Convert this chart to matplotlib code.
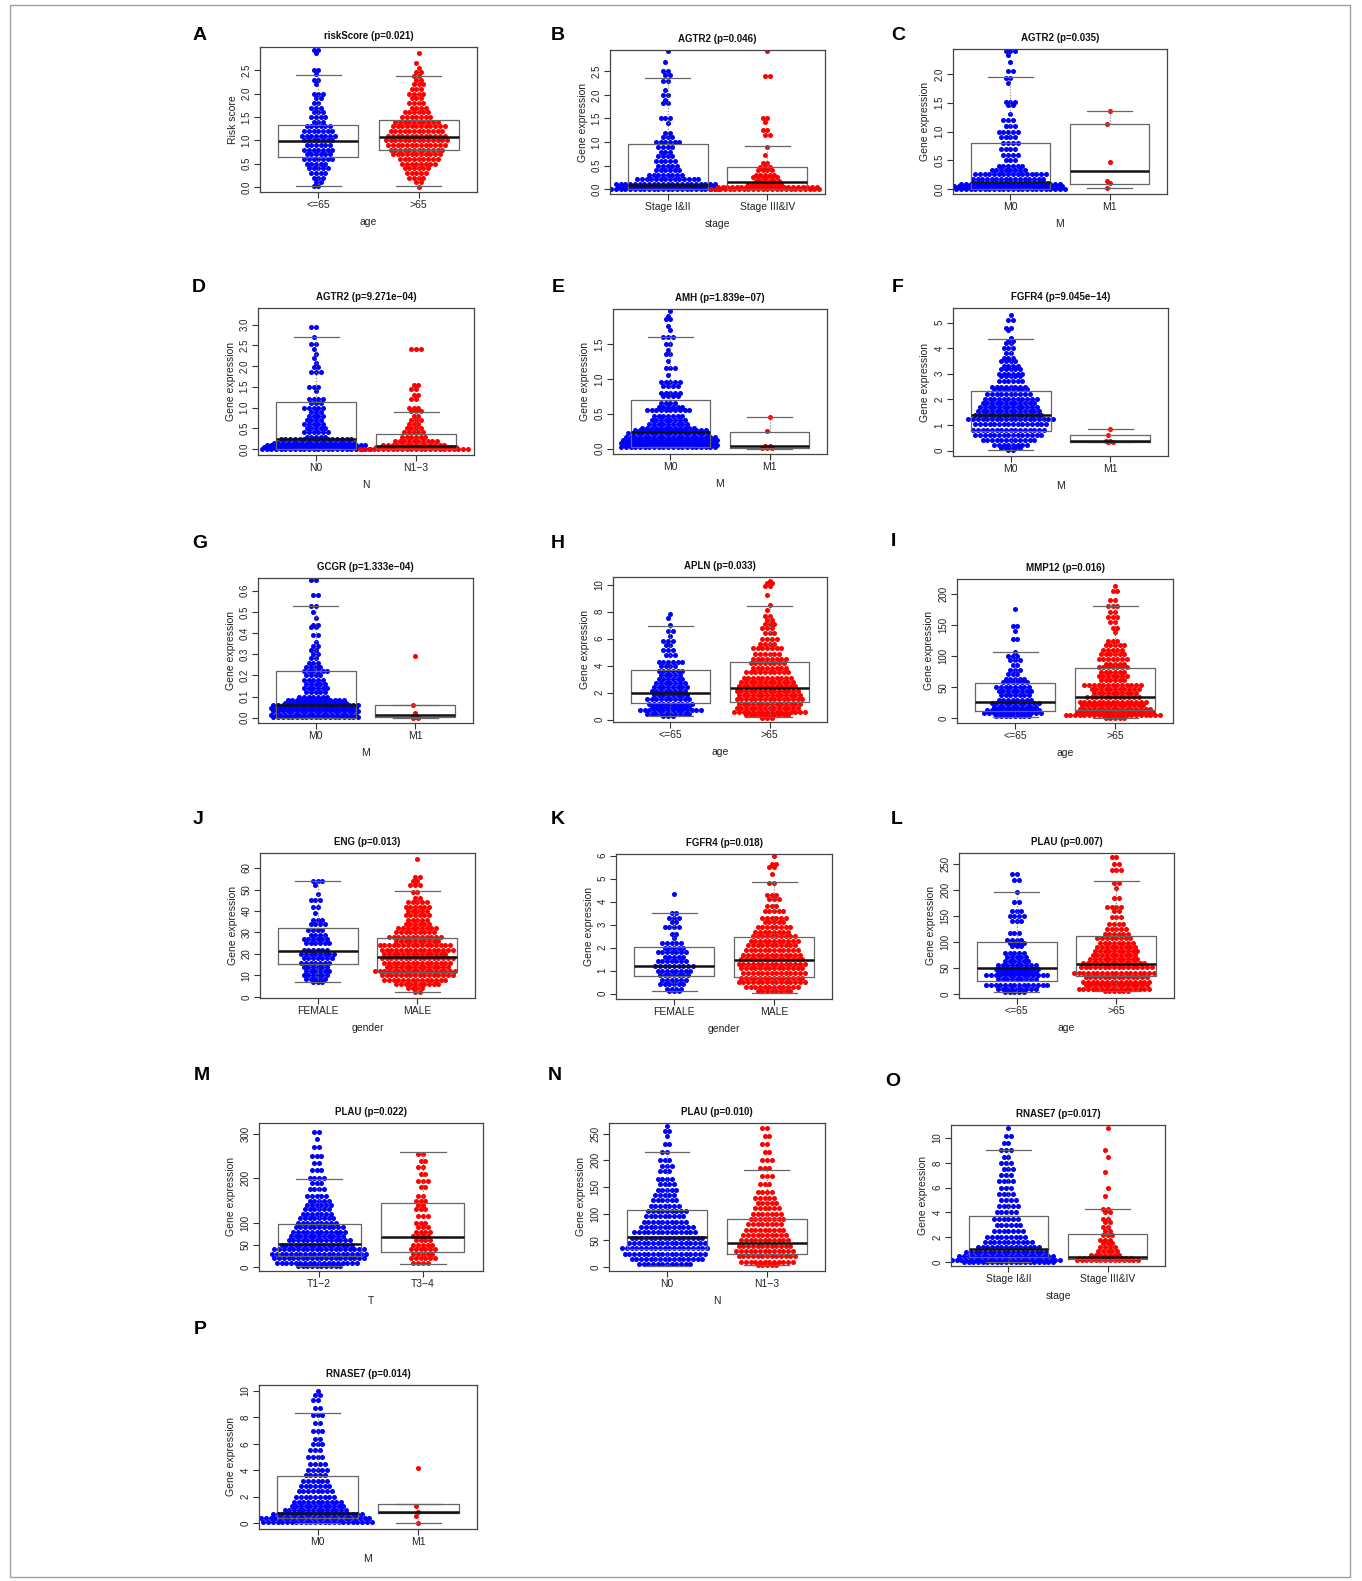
import matplotlib
matplotlib.use("Agg")
import matplotlib.pyplot as plt
from matplotlib.patches import Rectangle

plt.rcParams["font.family"] = ["Liberation Sans", "DejaVu Sans"]

W, H = 1362, 1581
fig = plt.figure(figsize=(W / 100, H / 100), dpi=100)

# ---- data ----
# swarm rows: (value, number of dots in that row)
A_lo = [(2.93, 2), (2.87, 1), (2.5, 2), (2.42, 1), (2.3, 2), (2.2, 1), (2.0, 3), (1.9, 2), (1.8, 2),
        (1.7, 3), (1.6, 3), (1.5, 4), (1.4, 3), (1.3, 6), (1.2, 7), (1.1, 8), (1.0, 7), (0.9, 6),
        (0.8, 7), (0.7, 6), (0.6, 7), (0.5, 5), (0.4, 5), (0.3, 4), (0.2, 3), (0.1, 2), (0.02, 2)]
A_hi = [(2.87, 1), (2.65, 1), (2.55, 1), (2.47, 2), (2.38, 2), (2.3, 2), (2.2, 3), (2.1, 3), (2.0, 4),
        (1.9, 3), (1.8, 4), (1.7, 4), (1.6, 6), (1.5, 7), (1.4, 10), (1.3, 12), (1.2, 12), (1.1, 13),
        (1.0, 14), (0.9, 13), (0.8, 12), (0.7, 11), (0.6, 9), (0.5, 8), (0.4, 6), (0.3, 5), (0.2, 4),
        (0.1, 2), (0.0, 1)]
B_lo = [(2.93, 1), (2.7, 1), (2.5, 2), (2.42, 2), (2.3, 2), (2.1, 1), (2.0, 2), (1.9, 1), (1.82, 2),
        (1.5, 3), (1.4, 1), (1.2, 2), (1.1, 3), (1.0, 6), (0.9, 4), (0.8, 3), (0.7, 4), (0.6, 5),
        (0.5, 5), (0.4, 6), (0.3, 8), (0.22, 14), (0.12, 22), (0.05, 22), (0.0, 24)]
B_hi = [(2.93, 1), (2.4, 2), (1.5, 2), (1.42, 1), (1.25, 2), (1.15, 2), (0.9, 1), (0.72, 1),
        (0.55, 2), (0.48, 3), (0.4, 4), (0.3, 5), (0.25, 6), (0.18, 6), (0.12, 8), (0.05, 22),
        (0.0, 24)]
C_lo = [(2.4, 3), (2.33, 1), (2.2, 1), (2.05, 2), (1.92, 2), (1.85, 1), (1.52, 3), (1.46, 2),
        (1.3, 1), (1.2, 3), (1.1, 3), (1.0, 5), (0.9, 4), (0.8, 4), (0.7, 4), (0.6, 4), (0.5, 3),
        (0.4, 6), (0.33, 8), (0.27, 16), (0.18, 16), (0.1, 22), (0.05, 24), (0.0, 24)]
C_hi = [(1.36, 1), (1.14, 1), (0.48, 1), (0.14, 1), (0.11, 1), (0.02, 1)]
D_lo = [(2.95, 2), (2.7, 1), (2.52, 2), (2.4, 1), (2.3, 1), (2.2, 1), (2.07, 1), (1.97, 2),
        (1.85, 3), (1.5, 3), (1.4, 1), (1.2, 4), (1.1, 3), (1.0, 5), (0.9, 3), (0.8, 4), (0.7, 4),
        (0.6, 5), (0.5, 5), (0.4, 6), (0.3, 5), (0.25, 16), (0.15, 18), (0.1, 22), (0.05, 22),
        (0.0, 24)]
D_hi = [(2.4, 3), (1.55, 2), (1.45, 2), (1.3, 2), (1.2, 2), (1.0, 3), (0.92, 3), (0.8, 2),
        (0.7, 3), (0.6, 3), (0.5, 4), (0.4, 5), (0.3, 6), (0.2, 10), (0.1, 14), (0.05, 18),
        (0.0, 24)]
E_lo = [(1.97, 1), (1.9, 1), (1.85, 2), (1.75, 1), (1.7, 1), (1.6, 3), (1.5, 2), (1.42, 1),
        (1.35, 2), (1.25, 1), (1.15, 3), (1.05, 1), (0.95, 5), (0.9, 4), (0.8, 5), (0.75, 4),
        (0.65, 4), (0.6, 6), (0.56, 10), (0.47, 7), (0.41, 8), (0.36, 9), (0.3, 12), (0.27, 16),
        (0.22, 18), (0.17, 20), (0.12, 21), (0.08, 21), (0.05, 21), (0.02, 21)]
E_hi = [(0.46, 1), (0.25, 1), (0.04, 2), (0.01, 3)]
F_lo = [(5.3, 1), (5.1, 2), (4.8, 2), (4.7, 1), (4.4, 1), (4.3, 2), (4.2, 2), (4.0, 3), (3.8, 2),
        (3.6, 3), (3.5, 4), (3.3, 4), (3.2, 5), (3.0, 6), (2.9, 5), (2.7, 6), (2.5, 8), (2.4, 8),
        (2.2, 10), (2.0, 12), (1.85, 12), (1.7, 13), (1.55, 14), (1.4, 15), (1.22, 19), (1.05, 16),
        (0.8, 16), (0.62, 15), (0.4, 12), (0.22, 8), (0.1, 5), (0.02, 2)]
F_hi = [(0.85, 1), (0.62, 1), (0.38, 2), (0.32, 2)]
G_lo = [(0.65, 2), (0.58, 2), (0.53, 2), (0.5, 1), (0.47, 1), (0.44, 2), (0.43, 2), (0.39, 2),
        (0.36, 1), (0.34, 2), (0.32, 2), (0.3, 2), (0.28, 2), (0.26, 3), (0.24, 4), (0.22, 6),
        (0.2, 4), (0.18, 5), (0.16, 5), (0.14, 6), (0.12, 5), (0.1, 7), (0.085, 13), (0.07, 14),
        (0.06, 19), (0.045, 19), (0.03, 19), (0.015, 19), (0.003, 19)]
G_hi = [(0.29, 1), (0.06, 1), (0.02, 1), (0.01, 1), (0.004, 1), (0.0, 2)]
H_lo = [(7.8, 1), (7.5, 1), (7.0, 1), (6.6, 2), (6.2, 1), (5.8, 3), (5.5, 2), (5.2, 3), (4.8, 3),
        (4.3, 6), (4.0, 4), (3.6, 6), (3.3, 5), (3.0, 6), (2.7, 7), (2.4, 8), (2.1, 8), (1.8, 8),
        (1.5, 10), (1.2, 10), (0.95, 9), (0.7, 14), (0.45, 10), (0.25, 3)]
H_hi = [(10.3, 1), (10.1, 2), (9.9, 2), (9.2, 1), (8.5, 1), (8.1, 1), (7.7, 2), (7.4, 2), (7.1, 3),
        (6.8, 3), (6.4, 3), (6.0, 4), (5.6, 4), (5.3, 7), (4.9, 6), (4.5, 8), (4.2, 8), (3.8, 8),
        (3.5, 10), (3.1, 11), (2.8, 12), (2.5, 13), (2.1, 14), (1.8, 14), (1.5, 15), (1.2, 14),
        (0.9, 14), (0.6, 16), (0.35, 10), (0.15, 3)]
I_lo = [(176, 1), (148, 2), (140, 1), (127, 2), (107, 1), (100, 3), (93, 3), (85, 2), (78, 3),
        (72, 3), (64, 5), (58, 6), (50, 8), (44, 8), (37, 7), (30, 8), (25, 11), (19, 10), (14, 12),
        (8, 13), (3, 8)]
I_hi = [(212, 1), (205, 2), (190, 2), (181, 3), (171, 2), (163, 3), (155, 2), (146, 2), (138, 1),
        (125, 3), (118, 5), (110, 5), (103, 6), (95, 7), (88, 5), (82, 7), (75, 6), (68, 7), (61, 6),
        (54, 13), (47, 11), (40, 10), (34, 12), (27, 15), (21, 14), (15, 16), (10, 17), (5, 21),
        (1, 5)]
J_lo = [(54, 3), (52, 1), (48, 1), (45, 3), (42, 2), (39, 1), (36, 3), (34, 4), (31, 4), (29, 4),
        (27, 6), (25, 6), (22, 6), (20, 8), (18, 7), (16, 7), (14, 6), (12, 6), (10, 6), (8.5, 5),
        (7, 3)]
J_hi = [(64, 1), (56, 2), (54, 2), (52, 3), (49, 2), (46, 2), (44, 5), (42, 6), (40, 5), (38, 6),
        (36, 5), (34, 6), (32, 9), (30, 9), (28, 12), (26, 10), (24, 16), (22, 16), (20, 14),
        (18, 16), (16, 15), (14, 14), (12, 18), (10, 16), (8, 14), (6, 10), (4, 4), (2.5, 2)]
K_lo = [(4.35, 1), (3.5, 2), (3.3, 3), (3.1, 2), (2.9, 4), (2.6, 2), (2.4, 1), (2.2, 5), (2.0, 5),
        (1.8, 7), (1.6, 5), (1.4, 7), (1.2, 9), (1.0, 8), (0.8, 7), (0.6, 6), (0.4, 6), (0.22, 4),
        (0.1, 3)]
K_hi = [(6.0, 1), (5.65, 2), (5.5, 2), (5.2, 1), (4.8, 2), (4.3, 3), (4.1, 3), (3.8, 3), (3.6, 5),
        (3.3, 6), (3.1, 5), (2.9, 8), (2.7, 8), (2.5, 10), (2.3, 11), (2.1, 11), (1.9, 12),
        (1.7, 13), (1.5, 14), (1.3, 15), (1.1, 14), (0.9, 14), (0.7, 14), (0.5, 15), (0.3, 12),
        (0.1, 8)]
L_lo = [(232, 2), (220, 2), (196, 1), (178, 2), (160, 3), (150, 4), (140, 3), (118, 3), (105, 4),
        (98, 4), (92, 3), (80, 5), (72, 5), (64, 6), (55, 9), (48, 10), (42, 9), (36, 14), (28, 9),
        (18, 14), (10, 9), (4, 5)]
L_hi = [(265, 2), (250, 2), (240, 3), (215, 2), (205, 1), (185, 2), (168, 4), (160, 2), (148, 3),
        (135, 4), (125, 5), (115, 6), (108, 8), (98, 8), (90, 9), (82, 10), (75, 10), (68, 11),
        (60, 14), (52, 16), (40, 18), (32, 14), (24, 15), (18, 14), (10, 16), (5, 6)]
M_lo = [(305, 2), (290, 1), (270, 2), (250, 3), (235, 2), (220, 3), (200, 4), (190, 3), (175, 4),
        (160, 5), (150, 5), (140, 6), (130, 6), (120, 7), (110, 8), (100, 9), (90, 11), (80, 12),
        (70, 12), (60, 14), (50, 16), (40, 20), (30, 21), (20, 20), (10, 18), (3, 10)]
M_hi = [(255, 2), (240, 2), (225, 2), (210, 2), (195, 3), (180, 2), (160, 2), (150, 3), (140, 2),
        (130, 3), (115, 3), (100, 3), (90, 3), (80, 4), (70, 4), (60, 4), (50, 5), (40, 6),
        (30, 5), (20, 6), (10, 4)]
N_lo = [(265, 1), (255, 2), (245, 1), (230, 2), (215, 2), (200, 3), (190, 3), (180, 3), (165, 4),
        (155, 4), (145, 5), (135, 5), (125, 6), (115, 7), (105, 9), (95, 9), (85, 10), (75, 12),
        (65, 14), (55, 16), (45, 17), (35, 19), (25, 18), (15, 16), (5, 12)]
N_hi = [(260, 2), (245, 2), (230, 2), (215, 2), (200, 3), (185, 3), (170, 3), (155, 3), (140, 4),
        (130, 5), (120, 5), (110, 6), (100, 7), (90, 8), (80, 8), (70, 9), (60, 10), (50, 11),
        (40, 12), (30, 13), (20, 13), (10, 12), (3, 5)]
O_lo = [(10.8, 1), (10.2, 2), (9.6, 2), (9.0, 3), (8.5, 2), (8.0, 3), (7.5, 3), (7.0, 3), (6.5, 4),
        (6.0, 3), (5.5, 4), (5.0, 4), (4.5, 5), (4.0, 5), (3.5, 6), (3.0, 6), (2.5, 7), (2.0, 9),
        (1.6, 11), (1.2, 14), (0.8, 18), (0.5, 21), (0.2, 24), (0.0, 20)]
O_hi = [(10.8, 1), (9.0, 1), (8.5, 1), (7.3, 1), (6.0, 1), (5.3, 1), (4.3, 2), (4.0, 2), (3.5, 2),
        (3.2, 2), (2.8, 2), (2.5, 2), (2.2, 3), (1.8, 3), (1.5, 3), (1.2, 4), (0.9, 5), (0.6, 7),
        (0.35, 12), (0.15, 14)]
P_lo = [(10.0, 1), (9.7, 2), (9.3, 2), (8.7, 2), (8.2, 3), (7.6, 2), (7.0, 3), (6.4, 2), (6.0, 3),
        (5.5, 3), (5.0, 4), (4.5, 4), (4.0, 5), (3.6, 5), (3.2, 6), (2.8, 7), (2.4, 8), (2.0, 9),
        (1.6, 11), (1.3, 12), (1.0, 14), (0.7, 20), (0.4, 24), (0.1, 24)]
P_hi = [(4.2, 1), (1.3, 1), (0.8, 1), (0.5, 1), (0.0, 1)]

# box stats per group: (q1, median, q3, lower whisker, upper whisker)
A_box = [(0.63, 0.98, 1.33, 0.02, 2.41), (0.79, 1.06, 1.44, 0.02, 2.38)]
B_box = [(0.0, 0.1, 0.95, 0.0, 2.35), (0.0, 0.15, 0.47, 0.0, 0.91)]
C_box = [(0.0, 0.12, 0.8, 0.0, 1.94), (0.1, 0.31, 1.14, 0.02, 1.36)]
D_box = [(0.0, 0.23, 1.13, 0.0, 2.69), (0.0, 0.06, 0.36, 0.0, 0.9)]
E_box = [(0.02, 0.24, 0.7, 0.02, 1.6), (0.01, 0.04, 0.24, 0.0, 0.46)]
F_box = [(0.78, 1.38, 2.32, 0.03, 4.36), (0.35, 0.38, 0.61, 0.32, 0.86)]
G_box = [(0.0, 0.06, 0.22, 0.0, 0.526), (0.003, 0.014, 0.06, 0.0, 0.06)]
H_box = [(1.23, 1.95, 3.68, 0.27, 6.91), (1.33, 2.35, 4.27, 0.22, 8.44)]
I_box = [(11.8, 26.3, 56.3, 1.6, 107), (12.9, 33.8, 81, 0.5, 180)]
J_box = [(15.1, 21.6, 32.0, 6.8, 53.9), (11.6, 18.5, 27.2, 2.3, 49.3)]
K_box = [(0.75, 1.22, 2.04, 0.12, 3.5), (0.72, 1.45, 2.48, 0.01, 4.86)]
L_box = [(24.4, 50, 99.4, 3.2, 196), (34.6, 57, 111, 5.8, 218)]
M_box = [(25, 52, 97, 2, 199), (34, 68, 144, 7, 260)]
N_box = [(34, 56, 107, 2, 216), (24, 45, 90, 4, 182)]
O_box = [(0.4, 1.05, 3.7, 0.0, 9.0), (0.24, 0.4, 2.26, 0.05, 4.3)]
P_box = [(0.38, 0.76, 3.56, 0.0, 8.33), (0.76, 0.83, 1.44, 0.0, 1.44)]

titles = ["riskScore (p=0.021)", "AGTR2 (p=0.046)", "AGTR2 (p=0.035)",
          "AGTR2 (p=9.271e\u221204)", "AMH (p=1.839e\u221207)", "FGFR4 (p=9.045e\u221214)",
          "GCGR (p=1.333e\u221204)", "APLN (p=0.033)", "MMP12 (p=0.016)",
          "ENG (p=0.013)", "FGFR4 (p=0.018)", "PLAU (p=0.007)",
          "PLAU (p=0.022)", "PLAU (p=0.010)", "RNASE7 (p=0.017)", "RNASE7 (p=0.014)"]
groups = [["<=65", ">65"], ["Stage I&II", "Stage III&IV"], ["M0", "M1"],
          ["N0", "N1\u22123"], ["M0", "M1"], ["M0", "M1"],
          ["M0", "M1"], ["<=65", ">65"], ["<=65", ">65"],
          ["FEMALE", "MALE"], ["FEMALE", "MALE"], ["<=65", ">65"],
          ["T1\u22122", "T3\u22124"], ["N0", "N1\u22123"], ["Stage I&II", "Stage III&IV"], ["M0", "M1"]]
xnames = ["age", "stage", "M", "N", "M", "M", "M", "age", "age",
          "gender", "gender", "age", "T", "N", "stage", "M"]
ylims = [(-0.11, 3.0), (-0.1, 2.95), (-0.08, 2.43), (-0.145, 3.4), (-0.076, 2.0), (-0.21, 5.57),
         (-0.025, 0.66), (-0.17, 10.57), (-7.5, 224), (-0.5, 67), (-0.23, 6.07), (-7.7, 272),
         (-9, 325), (-7.5, 270), (-0.32, 11.05), (-0.45, 10.45)]
yticks = [[0, 0.5, 1, 1.5, 2, 2.5], [0, 0.5, 1, 1.5, 2, 2.5], [0, 0.5, 1, 1.5, 2],
          [0, 0.5, 1, 1.5, 2, 2.5, 3], [0, 0.5, 1, 1.5], [0, 1, 2, 3, 4, 5],
          [0, 0.1, 0.2, 0.3, 0.4, 0.5, 0.6], [0, 2, 4, 6, 8, 10], [0, 50, 100, 150, 200],
          [0, 10, 20, 30, 40, 50, 60], [0, 1, 2, 3, 4, 5, 6], [0, 50, 100, 150, 200, 250],
          [0, 50, 100, 200, 300], [0, 50, 100, 150, 200, 250], [0, 2, 4, 6, 8, 10], [0, 2, 4, 6, 8, 10]]
yfmt = ["%.1f"] * 5 + ["%g", "%.1f"] + ["%g"] * 9

swarms = [(A_lo, A_hi), (B_lo, B_hi), (C_lo, C_hi), (D_lo, D_hi), (E_lo, E_hi), (F_lo, F_hi),
          (G_lo, G_hi), (H_lo, H_hi), (I_lo, I_hi), (J_lo, J_hi), (K_lo, K_hi), (L_lo, L_hi),
          (M_lo, M_hi), (N_lo, N_hi), (O_lo, O_hi), (P_lo, P_hi)]
boxes = [A_box, B_box, C_box, D_box, E_box, F_box, G_box, H_box, I_box, J_box, K_box, L_box,
         M_box, N_box, O_box, P_box]

# ---- layout (pixels): letter position, axes left/top/right/bottom ----
letters = "ABCDEFGHIJKLMNOP"
letter_xy = [(200, 35), (558, 35), (898, 35), (199, 288), (558, 288), (898, 288),
             (200, 543), (558, 543), (893, 542), (198, 820), (558, 820), (897, 820),
             (202, 1075), (555, 1075), (893, 1082), (200, 1329)]
rects = [(260, 47, 477, 192), (610, 50, 825, 194), (953, 49, 1167, 194),
         (258, 308, 474, 455), (613, 309, 827, 454), (953, 308, 1168, 456),
         (258, 578, 473, 723), (613, 577, 827, 722), (957, 579, 1173, 723),
         (260, 853, 475, 998), (616, 854, 832, 999), (959, 853, 1174, 998),
         (259, 1123, 483, 1271), (609, 1123, 825, 1271), (951, 1125, 1165, 1266),
         (259, 1385, 477, 1529)]

XLIM = (0.42, 2.58)
DOT_PX = 4.7


def slots(n, shift):
    # n dot positions (in dot widths) nearest the centre, alternating sides
    cand = sorted((m + shift for m in range(-n - 1, n + 2)), key=lambda s: (abs(s), s))
    return cand[:n]


for i in range(16):
    l, t, r, b = rects[i]
    ax = fig.add_axes([l / W, 1 - b / H, (r - l) / W, (b - t) / H])
    ax.set_xlim(*XLIM)
    ax.set_ylim(*ylims[i])
    dx = DOT_PX / ((r - l) / (XLIM[1] - XLIM[0]))

    for g, (rows, col) in enumerate(zip(swarms[i], ["#0000ff", "#ff0000"])):
        xs, ys = [], []
        for j, (v, n) in enumerate(rows):
            for s in slots(n, 0.5 * (j % 2)):
                xs.append(g + 1 + s * dx)
                ys.append(v)
        ax.scatter(xs, ys, s=13, c=col, linewidths=0, zorder=2)

    stats = [dict(q1=q1, med=med, q3=q3, whislo=lo, whishi=hi, fliers=[])
             for q1, med, q3, lo, hi in boxes[i]]
    ax.bxp(stats, positions=[1, 2], widths=0.8, capwidths=0.45, showfliers=False,
           boxprops=dict(color="#666666", lw=0.9, zorder=3),
           medianprops=dict(color="#111111", lw=1.8, zorder=3),
           whiskerprops=dict(color="#777777", lw=0.8, ls=":", zorder=3),
           capprops=dict(color="#666666", lw=0.9, zorder=3))

    ax.set_xticks([1, 2])
    ax.set_xticklabels(groups[i], fontsize=7.5)
    ax.set_yticks(yticks[i])
    ax.set_yticklabels([yfmt[i] % v for v in yticks[i]], fontsize=7,
                       rotation=90, va="center")
    ax.tick_params(length=4, width=0.8, color="#333333", labelcolor="#222222")
    ax.tick_params(axis="y", pad=2)
    ax.tick_params(axis="x", pad=2)
    for sp in ax.spines.values():
        sp.set_color("#444444")
        sp.set_linewidth(0.9)

    ax.set_title(titles[i], fontsize=7, fontweight="bold", pad=6, color="#111111")
    ax.set_xlabel(xnames[i], fontsize=7.5, labelpad=5, color="#222222")
    ax.set_ylabel("Risk score" if i == 0 else "Gene expression", fontsize=7.5,
                  labelpad=3, color="#222222")

    lx, ly = letter_xy[i]
    fig.text(lx / W, 1 - ly / H, letters[i], fontsize=14, fontweight="bold",
             ha="center", va="center")

# thin frame round the whole figure
fig.patches.append(Rectangle((10 / W, 4 / H), 1340 / W, 1572 / H, transform=fig.transFigure,
                             fill=False, edgecolor="#a0a0a0", lw=1))

fig.savefig("out.png", dpi=100, facecolor="white")
